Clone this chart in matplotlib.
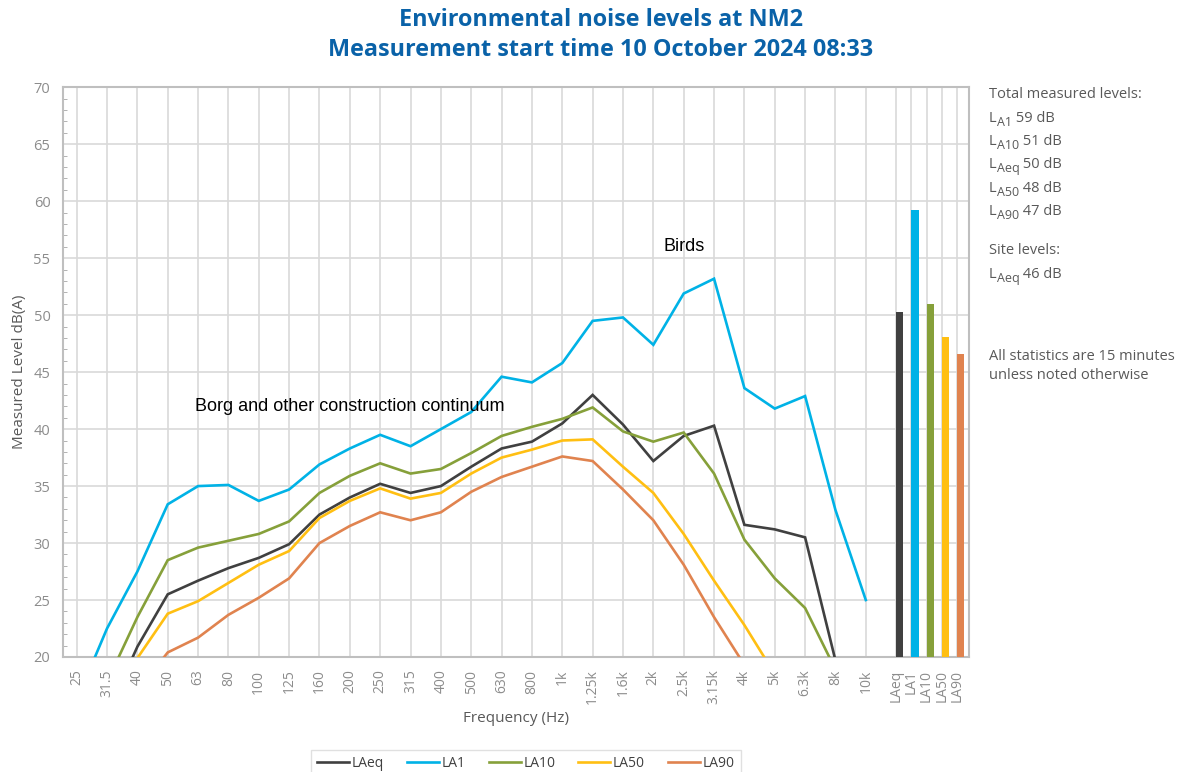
"""Environmental noise spectrum chart for NM2."""
import matplotlib
matplotlib.use("Agg")
import matplotlib.pyplot as plt
from matplotlib.lines import Line2D

plt.rcParams["font.family"] = ["Open Sans", "DejaVu Sans"]

# Third-octave bands (Hz)
bands = ["25", "31.5", "40", "50", "63", "80", "100", "125", "160", "200",
         "250", "315", "400", "500", "630", "800", "1k", "1.25k", "1.6k", "2k",
         "2.5k", "3.15k", "4k", "5k", "6.3k", "8k", "10k"]

laeq = [10.0, 15.0, 20.9, 25.5, 26.7, 27.8, 28.7, 29.9, 32.5, 34.0,
        35.2, 34.4, 35.0, 36.7, 38.3, 38.9, 40.5, 43.0, 40.4, 37.2,
        39.4, 40.3, 31.6, 31.2, 30.5, 19.7, 14.0]
la1 = [16.2, 22.5, 27.5, 33.4, 35.0, 35.1, 33.7, 34.7, 36.9, 38.3,
       39.5, 38.5, 40.0, 41.5, 44.6, 44.1, 45.8, 49.5, 49.8, 47.4,
       51.9, 53.2, 43.6, 41.8, 42.9, 32.9, 25.0]
la10 = [12.0, 17.8, 23.5, 28.5, 29.6, 30.2, 30.8, 31.9, 34.4, 35.9,
        37.0, 36.1, 36.5, 37.9, 39.4, 40.2, 40.9, 41.9, 39.8, 38.9,
        39.7, 36.1, 30.3, 26.9, 24.3, 18.9, 14.0]
la50 = [10.0, 14.0, 19.9, 23.8, 24.9, 26.5, 28.1, 29.3, 32.2, 33.7,
        34.8, 33.9, 34.4, 36.1, 37.5, 38.2, 39.0, 39.1, 36.7, 34.4,
        30.8, 26.7, 22.8, 18.5, 15.0, 12.0, 10.0]
la90 = [8.0, 12.0, 17.0, 20.4, 21.7, 23.7, 25.2, 26.9, 30.0, 31.5,
        32.7, 32.0, 32.7, 34.5, 35.8, 36.7, 37.6, 37.2, 34.7, 32.0,
        28.1, 23.5, 19.3, 15.0, 12.0, 10.0, 8.0]

# Overall levels shown as bars
totals_labels = ["LAeq", "LA1", "LA10", "LA50", "LA90"]
totals = [50.3, 59.2, 51.0, 48.1, 46.6]

# Side panel text
stat_subs = ["A1", "A10", "Aeq", "A50", "A90"]
stat_vals = ["59 dB", "51 dB", "50 dB", "48 dB", "47 dB"]
site_subs = ["Aeq"]
site_vals = ["46 dB"]

colors = {
    "LAeq": "#404040",
    "LA1": "#00B2E6",
    "LA10": "#86A03A",
    "LA50": "#FFBF12",
    "LA90": "#E0834F",
}
series = {"LAeq": laeq, "LA1": la1, "LA10": la10, "LA50": la50, "LA90": la90}

grid_c = "#D9D9D9"
tick_c = "#8C8C8C"
text_c = "#595959"

W, H = 1192, 772
fig = plt.figure(figsize=(W / 100, H / 100), dpi=100)
ax = fig.add_axes([63 / W, 1 - 657 / H, (969 - 63) / W, (657 - 87.3) / H])

x_bands = list(range(len(bands)))
for name, vals in series.items():
    ax.plot(x_bands, vals, color=colors[name], lw=1.9, label=name,
            solid_joinstyle="miter", zorder=3)

x_tot = [len(bands) + 0.5 * i for i in range(len(totals))]
ax.bar(x_tot, totals, width=0.24, align="edge",
       color=[colors[n] for n in totals_labels], zorder=3)

ax.set_xlim(-0.45, x_tot[-1] + 0.4)
ax.set_ylim(20, 70)
ax.set_xticks(x_bands + x_tot)
ax.set_xticklabels(bands + totals_labels, rotation=90, color=tick_c, fontsize=10)
ax.set_yticks(range(20, 71, 5))
ax.set_yticks(range(20, 71, 1), minor=True)
ax.tick_params(axis="y", which="major", length=0, pad=9, labelcolor=tick_c, labelsize=10.5)
ax.tick_params(axis="y", which="minor", length=3, direction="in", color="#A6A6A6")
ax.tick_params(axis="x", length=0, pad=9)
ax.grid(True, which="major", color=grid_c, lw=1.2, zorder=0)
for s in ax.spines.values():
    s.set_color("#BFBFBF")
    s.set_linewidth(1.5)
ax.set_axisbelow(True)

ax.set_ylabel("Measured Level dB(A)", color=text_c, fontsize=11, labelpad=5)
ax.set_xlabel("Frequency (Hz)", color=text_c, fontsize=11, labelpad=5)

# Annotations
ax.text(bands.index("63") - 0.1, 42.0, "Borg and other construction continuum",
        family=["Liberation Sans"], fontsize=13, color="black", va="center")
ax.text(bands.index("2.5k") - 0.67, 56.0, "Birds",
        family=["Liberation Sans"], fontsize=13, color="black", va="center")

fig.text(601 / W, 1 - 35 / H,
         "Environmental noise levels at NM2\nMeasurement start time 10 October 2024 08:33",
         ha="center", va="center", fontsize=16.8, fontweight="bold",
         color="#0A62A8", linespacing=1.3)

renderer = fig.canvas.get_renderer()


def side_label(y, sub, val):
    """Draw L with a lowered subscript followed by a value (pixel layout)."""
    x = 989
    for txt, size, dy in (("L", 10.5, 0), (sub, 9, 4), (" " + val, 10.5, 0)):
        t = fig.text(x / W, 1 - (y + dy) / H, txt, ha="left", va="baseline",
                     fontsize=size, color=text_c)
        x += t.get_window_extent(renderer).width


fig.text(989 / W, 1 - 95 / H, "Total measured levels:", ha="left",
         va="center", fontsize=10.5, color=text_c)
for i, (sub, val) in enumerate(zip(stat_subs, stat_vals)):
    side_label(122 + i * 23.2, sub, val)
fig.text(989 / W, 1 - 251 / H, "Site levels:", ha="left",
         va="center", fontsize=10.5, color=text_c)
for sub, val in zip(site_subs, site_vals):
    side_label(278, sub, val)
fig.text(989 / W, 1 - 356 / H, "All statistics are 15 minutes", ha="left",
         va="center", fontsize=10.5, color=text_c)
fig.text(989 / W, 1 - 376 / H, "unless noted otherwise", ha="left",
         va="center", fontsize=10.5, color=text_c)

handles = [Line2D([], [], color=colors[n], lw=1.9) for n in series]
fig.legend(handles, list(series), loc="upper center",
           bbox_to_anchor=(526 / W, 1 - 743 / H), ncol=5,
           frameon=True, edgecolor=grid_c, fancybox=False, fontsize=10,
           handlelength=2.3, handletextpad=0.2, columnspacing=1.65,
           borderpad=0.45, labelcolor="#404040")

fig.savefig("out.png", dpi=100)
